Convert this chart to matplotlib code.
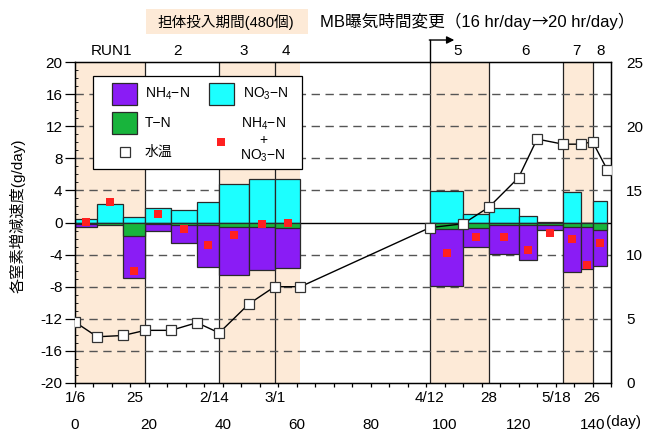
import matplotlib
matplotlib.use("Agg")
import matplotlib.pyplot as plt
import matplotlib.transforms as mtransforms
from matplotlib.patches import Rectangle

plt.rcParams['font.family'] = ['Liberation Sans', 'Noto Sans CJK JP', 'DejaVu Sans']
plt.rcParams['mathtext.fontset'] = 'custom'
plt.rcParams['mathtext.rm'] = 'Liberation Sans'
plt.rcParams['mathtext.it'] = 'Liberation Sans:italic'
plt.rcParams['axes.unicode_minus'] = False

# ---- data -------------------------------------------------------------
# sampling days (elapsed days from 1/6) and water temperature (deg C)
sample_days = [0, 6, 13, 19, 26, 33, 39, 47, 54, 61,
               96, 105, 112, 120, 125, 132, 137, 140, 144]
water_temp = [4.75, 3.6, 3.7, 4.1, 4.1, 4.7, 3.9, 6.15, 7.5, 7.5,
              12.1, 12.4, 13.7, 16.0, 19.0, 18.6, 18.6, 18.8, 16.6]

# rate periods (start/end day) and nitrogen change rates (g/day)
period_start = [0, 6, 13, 19, 26, 33, 39, 47, 54,
                96, 105, 112, 120, 125, 132, 137, 140]
period_end = [6, 13, 19, 26, 33, 39, 47, 54, 61,
              105, 112, 120, 125, 132, 137, 140, 144]
no3_rate = [0.4, 2.35, 0.65, 1.8, 1.6, 2.5, 4.75, 5.4, 5.45,
            3.96, 1.1, 1.77, 0.8, 0.1, 3.76, 0.0, 2.64]
nh4_rate = [-0.6, -0.2, -6.95, -1.06, -2.6, -5.6, -6.6, -5.9, -5.7,
            -7.9, -3.1, -3.9, -4.67, -0.93, -6.13, -5.8, -5.42]
tn_rate = [-0.15, -0.3, -1.7, -0.2, -0.25, -0.25, -0.55, -0.55, -0.65,
           -0.75, -0.65, -0.35, -0.37, -0.37, -0.6, -0.62, -0.95]
nh4_no3_rate = [0.1, 2.6, -6.0, 1.1, -0.77, -2.85, -1.6, -0.2, 0.0,
                -3.75, -1.77, -1.84, -3.47, -1.35, -2.1, -5.33, -2.5]

# runs
run_labels = ['RUN1', '2', '3', '4', '5', '6', '7', '8']
run_start = [0, 19, 39, 54, 96, 112, 132, 140]
run_end = [19, 39, 54, 61, 112, 132, 140, 145]
run_carrier = [True, False, True, True, True, False, True, False]
run_label_x = [10.0, 27.7, 45.6, 57.1, 103.4, 121.9, 135.6, 142.2]

# axis labels
date_labels = ['1/6', '25', '2/14', '3/1', '4/12', '28', '5/18', '26']
date_label_x = [0, 16.2, 37.6, 54, 96, 112, 130.2, 139.8]
day_ticks = [0, 20, 40, 60, 80, 100, 120, 140]
rate_ticks = list(range(-20, 21, 4))
temp_ticks = [0, 5, 10, 15, 20, 25]
aeration_change_day = 96

# ---- style ------------------------------------------------------------
C_NH4 = '#8A1CF5'
C_NO3 = '#1CFFFF'
C_TN = '#18B43C'
C_SUM = '#FF2020'
C_SHADE = '#FDEAD7'
C_EDGE = '#2a2a2a'
FS = 11

W, H = 648, 432
fig = plt.figure(figsize=(W / 100, H / 100), dpi=100)
ax = fig.add_axes([75 / W, 1 - 383 / H, 536 / W, 321 / H])
ax.set_xlim(0, 145)
ax.set_ylim(-20, 20)

# carrier-loading periods and run boundaries
for s, e, c in zip(run_start, run_end, run_carrier):
    if c:
        ax.axvspan(s, e, color=C_SHADE, lw=0, zorder=0)
for s in run_start[1:]:
    ax.axvline(s, color='#222222', lw=0.9, zorder=1)

# grid
for v in rate_ticks:
    if v in (-20, 20):
        continue
    if v == 0:
        ax.axhline(0, color='black', lw=1.0, zorder=1.5)
    else:
        ax.axhline(v, color='#555555', lw=1.0, dashes=(6, 4), zorder=1.2)

# rate bars
widths = [e - s for s, e in zip(period_start, period_end)]
bar_kw = dict(align='edge', edgecolor=C_EDGE, linewidth=0.9)
ax.bar(period_start, no3_rate, widths, color=C_NO3, zorder=2, **bar_kw)
ax.bar(period_start, nh4_rate, widths, color=C_NH4, zorder=2.1, **bar_kw)
ax.bar(period_start, tn_rate, widths, color=C_TN, zorder=2.2, **bar_kw)
centers = [s + w / 2 for s, w in zip(period_start, widths)]
ax.plot(centers, nh4_no3_rate, 's', color=C_SUM, ms=5.8, mew=0, zorder=3)

# ticks
ax.set_yticks(rate_ticks)
ax.set_yticklabels([str(v) for v in rate_ticks], fontsize=FS)
ax.set_yticks(range(-20, 21, 1), minor=True)
ax.tick_params(axis='y', which='major', direction='out', length=7, width=0.9, pad=2)
ax.tick_params(axis='y', which='minor', direction='in', length=2, width=0.6)
ax.set_xticks(day_ticks)
ax.set_xticklabels([str(v) for v in day_ticks], fontsize=FS)
ax.set_xticks(range(0, 146, 5), minor=True)
ax.tick_params(axis='x', which='both', direction='out', length=3, width=0.9, pad=22)
for sp in ax.spines.values():
    sp.set_linewidth(1.0)

bt = mtransforms.blended_transform_factory(ax.transData, ax.transAxes)
for lab, x in zip(date_labels, date_label_x):
    ax.text(x, -0.047, lab, transform=bt, ha='center', va='center', fontsize=FS)
ax.text(143.7, -0.122, '(day)', transform=bt, ha='left', va='center', fontsize=FS)

for lab, x in zip(run_labels, run_label_x):
    ax.text(x, 1.034, lab, transform=bt, ha='center', va='center', fontsize=FS)

# aeration change arrow
ax.plot([aeration_change_day, aeration_change_day], [1.0, 1.0685], color='black',
        lw=1.0, transform=bt, clip_on=False)
ax.annotate('', xy=(aeration_change_day + 6.6, 1.0685),
            xytext=(aeration_change_day - 0.15, 1.0685),
            xycoords=bt, textcoords=bt, annotation_clip=False,
            arrowprops=dict(arrowstyle='-|>', color='black', lw=1.0,
                            mutation_scale=11, shrinkA=0, shrinkB=0))

# water temperature on the right axis
ax2 = ax.twinx()
ax2.set_ylim(0, 25)
ax2.set_yticks(temp_ticks)
ax2.set_yticklabels([str(v) for v in temp_ticks], fontsize=FS)
ax2.tick_params(axis='y', length=0, pad=11)
ax2.plot(sample_days, water_temp, '-', color='black', lw=1.0, zorder=4)
ax2.plot(sample_days, water_temp, 's', mfc='white', mec='#333333', mew=0.9,
         ms=7.8, zorder=5)

# y label
fig.text(17 / W, 1 - 216 / H, '各窒素増減速度(g/day)', rotation=90,
         ha='center', va='center', fontsize=FS)

# header annotations
fig.patches.append(Rectangle((146 / W, 1 - 34 / H), (308 - 146) / W, 25 / H,
                             transform=fig.transFigure, facecolor=C_SHADE,
                             edgecolor='none'))
fig.text(226 / W, 1 - 22 / H, '担体投入期間(480個)', ha='center', va='center',
         fontsize=10.5)
h1 = fig.text(320 / W, 1 - 22 / H, 'MB曝気時間変更（16 hr/day',
              ha='left', va='baseline', fontsize=12)
h2 = fig.text(0, 0, '→', fontsize=12, family=['Noto Sans CJK JP'],
              ha='left', va='baseline')
h3 = fig.text(0, 0, '20 hr/day）', fontsize=12, ha='left', va='baseline')


def _chain(fig_):
    r = fig_.canvas.get_renderer()
    inv = fig_.transFigure.inverted()
    bb1 = h1.get_window_extent(r)
    x1 = inv.transform((bb1.x1, 0))[0]
    h2.set_position((x1, h1.get_position()[1]))
    bb2 = h2.get_window_extent(r)
    x2 = inv.transform((bb2.x1, 0))[0]
    h3.set_position((x2, h1.get_position()[1]))


h1.set_position((320 / W, 1 - 26.5 / H))
fig.canvas.draw()
_chain(fig)

# legend (drawn in pixel-derived axes fractions)
def fx(px):
    return (px - 75) / 536


def fy(py):
    return (383 - py) / 321


lt = ax2.transAxes
ax2.add_patch(Rectangle((fx(93), fy(169)), fx(302) - fx(93), fy(76) - fy(169),
                        transform=lt, facecolor='white', edgecolor='black',
                        lw=0.9, zorder=10))
for (x0, y0, col) in [(112, 82.5, C_NH4), (209, 82.5, C_NO3), (112, 111.5, C_TN)]:
    ax2.add_patch(Rectangle((fx(x0), fy(y0 + 22)), fx(x0 + 25) - fx(x0),
                            fy(y0) - fy(y0 + 22), transform=lt, facecolor=col,
                            edgecolor=C_EDGE, lw=0.9, zorder=11))
lfs = 10
ax2.text(fx(145), fy(94), 'NH$_4$−N', transform=lt, ha='left', va='center',
         fontsize=lfs, zorder=12)
ax2.text(fx(243), fy(94), 'NO$_3$−N', transform=lt, ha='left', va='center',
         fontsize=lfs, zorder=12)
ax2.text(fx(145), fy(122.5), 'T−N', transform=lt, ha='left', va='center',
         fontsize=lfs, zorder=12)
ax2.plot([fx(125)], [fy(151.5)], 's', mfc='white', mec='#333333', mew=0.9, ms=7.8,
         transform=lt, zorder=12, clip_on=False)
ax2.text(fx(145), fy(151.5), '水温', transform=lt, ha='left', va='center',
         fontsize=lfs, zorder=12)
ax2.plot([fx(221)], [fy(141.5)], 's', color=C_SUM, ms=5.8, mew=0,
         transform=lt, zorder=12, clip_on=False)
ax2.text(fx(263), fy(123.5), 'NH$_4$−N', transform=lt, ha='center', va='center',
         fontsize=lfs, zorder=12)
ax2.text(fx(263), fy(139.5), '+', transform=lt, ha='center', va='center',
         fontsize=lfs, zorder=12)
ax2.text(fx(263), fy(155.5), 'NO$_3$−N', transform=lt, ha='center', va='center',
         fontsize=lfs, zorder=12)

fig.savefig('out.png', dpi=100)
